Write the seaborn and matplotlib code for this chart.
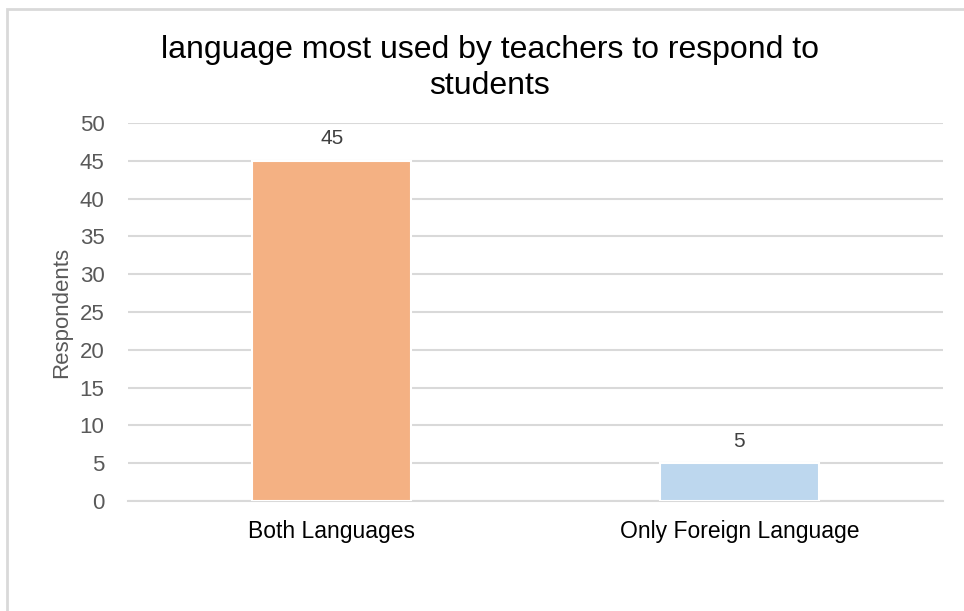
import matplotlib
matplotlib.use("Agg")
import matplotlib.pyplot as plt
import seaborn as sns
import pandas as pd
from matplotlib.patches import Rectangle

categories = ["Both Languages", "Only Foreign Language"]
values = [45, 5]
colors = ["#F4B183", "#BDD7EE"]
yticks = [0, 5, 10, 15, 20, 25, 30, 35, 40, 45, 50]
title = "language most used by teachers to respond to\nstudents"
ylabel = "Respondents"

sns.set_theme(style="white")
plt.rcParams['font.family'] = ['Liberation Sans', 'DejaVu Sans']

df = pd.DataFrame({"cat": categories, "val": values})

fig = plt.figure(figsize=(9.64, 6.11), dpi=100)
ax = fig.add_axes([128/964, 1-501/611, (943-128)/964, (501-123)/611])

sns.barplot(data=df, x="cat", y="val", hue="cat", palette=colors, legend=False,
            saturation=1, width=0.39, edgecolor="white", linewidth=1.5, ax=ax, zorder=3)

ax.set_ylim(0, 50)
ax.set_xlim(-0.5, 1.5)
ax.set_yticks(yticks)
ax.yaxis.grid(True, color="#D9D9D9", linewidth=1.5, zorder=0)
ax.set_axisbelow(True)
for s in ["top", "right", "left"]:
    ax.spines[s].set_visible(False)
ax.spines["bottom"].set_color("#D9D9D9")
ax.spines["bottom"].set_linewidth(1.5)

ax.tick_params(axis="y", length=0, labelsize=16, labelcolor="#595959", pad=17)
ax.tick_params(axis="x", which="major", length=0, labelsize=16.5, labelcolor="#000000", pad=14)
ax.set_xticks([-0.5, 0.5, 1.5], minor=True)
ax.tick_params(axis="x", which="minor", length=5, width=1.5, color="#D9D9D9", direction="out")

ax.set_xlabel("")
ax.set_ylabel(ylabel, fontsize=16, color="#595959", labelpad=5)

for i, v in enumerate(values):
    ax.annotate(str(v), (i, v), xytext=(0, 9), textcoords="offset points",
                ha="center", va="bottom", fontsize=15, color="#404040")

fig.text(490/964, 1-68/611, title, ha="center", va="center", fontsize=23,
         color="#000000", linespacing=1.25)

fig.patches.append(Rectangle((7/964, -0.1), 1.2, 1-9/611+0.1, transform=fig.transFigure,
                             fill=False, edgecolor="#D9D9D9", linewidth=2, zorder=0))

fig.savefig("out.png", dpi=100)
